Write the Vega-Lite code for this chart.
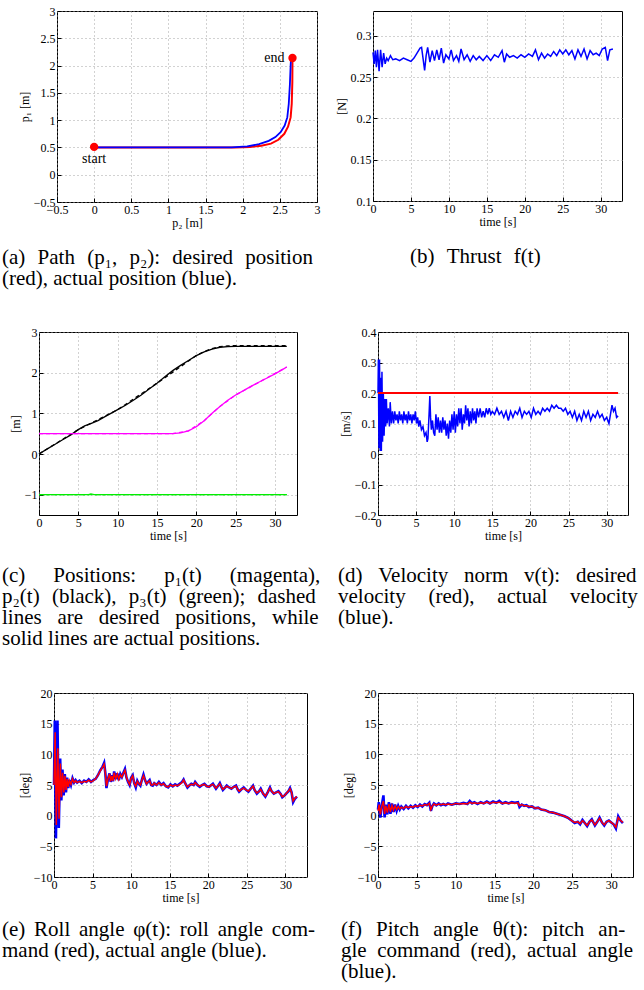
{
"$schema": "https://vega.github.io/schema/vega-lite/v6.json",
"background": "white",
"padding": {"left": 1, "top": 4, "right": 0, "bottom": 0},
"autosize": {"type": "pad"},
"config": {
  "font": "Liberation Serif",
  "view": {"stroke": "black", "strokeWidth": 1, "fill": "white"},
  "axis": {"domain": false, "grid": true, "gridColor": "#9a9a9a", "gridDash": [1, 3], "gridWidth": 0.9, "ticks": true, "tickSize": -4, "tickColor": "black", "labelFont": "Liberation Serif", "labelFontSize": 12, "labelColor": "black", "labelPadding": 6, "labelFlush": false, "labelOverlap": false, "titleFont": "Liberation Serif", "titleFontSize": 12, "titleFontWeight": "normal", "titleColor": "black", "titlePadding": 2},
  "title": {"font": "Liberation Serif", "fontSize": 21, "fontWeight": "normal", "color": "black", "orient": "bottom", "anchor": "start", "frame": "group", "align": "left", "baseline": "top", "lineHeight": 21}
},
"datasets": {
  "pathDes": [{"i":0,"p2":0,"p1":0.5},{"i":1,"p2":1.9,"p1":0.5},{"i":2,"p2":2.1,"p1":0.51},{"i":3,"p2":2.25,"p1":0.53},{"i":4,"p2":2.38,"p1":0.57},{"i":5,"p2":2.48,"p1":0.64},{"i":6,"p2":2.56,"p1":0.75},{"i":7,"p2":2.61,"p1":0.88},{"i":8,"p2":2.645,"p1":1.05},{"i":9,"p2":2.66,"p1":1.3},{"i":10,"p2":2.668,"p1":1.7},{"i":11,"p2":2.67,"p1":2.14}],
  "pathAct": [{"i":0,"p2":0,"p1":0.5},{"i":1,"p2":1.85,"p1":0.5},{"i":2,"p2":2.06,"p1":0.52},{"i":3,"p2":2.22,"p1":0.56},{"i":4,"p2":2.35,"p1":0.62},{"i":5,"p2":2.44,"p1":0.69},{"i":6,"p2":2.51,"p1":0.78},{"i":7,"p2":2.565,"p1":0.9},{"i":8,"p2":2.6,"p1":1.05},{"i":9,"p2":2.62,"p1":1.3},{"i":10,"p2":2.635,"p1":1.65},{"i":11,"p2":2.645,"p1":2.0},{"i":12,"p2":2.65,"p1":2.12}],
  "pathPts": [{"p2":0,"p1":0.51,"label":"start"},{"p2":2.67,"p1":2.14,"label":"end"}],
  "thrust": [{"t":0,"v":0.28},{"t":0.15,"v":0.266},{"t":0.3,"v":0.282},{"t":0.45,"v":0.262},{"t":0.6,"v":0.283},{"t":0.8,"v":0.257},{"t":1.0,"v":0.283},{"t":1.2,"v":0.262},{"t":1.4,"v":0.279},{"t":1.6,"v":0.266},{"t":1.8,"v":0.273},{"t":2.0,"v":0.27},{"t":2.3,"v":0.276},{"t":2.6,"v":0.271},{"t":3.0,"v":0.272},{"t":3.5,"v":0.27},{"t":4.0,"v":0.273},{"t":4.5,"v":0.271},{"t":5.0,"v":0.269},{"t":5.4,"v":0.273},{"t":5.8,"v":0.279},{"t":6.2,"v":0.285},{"t":6.4,"v":0.286},{"t":6.6,"v":0.272},{"t":6.8,"v":0.258},{"t":7.0,"v":0.276},{"t":7.2,"v":0.286},{"t":7.5,"v":0.268},{"t":7.8,"v":0.282},{"t":8.1,"v":0.27},{"t":8.4,"v":0.283},{"t":8.7,"v":0.271},{"t":9.0,"v":0.285},{"t":9.3,"v":0.267},{"t":9.6,"v":0.277},{"t":10.0,"v":0.272},{"t":10.3,"v":0.283},{"t":10.6,"v":0.27},{"t":11.0,"v":0.276},{"t":11.3,"v":0.269},{"t":11.6,"v":0.284},{"t":12.0,"v":0.271},{"t":12.4,"v":0.277},{"t":12.8,"v":0.269},{"t":13.2,"v":0.276},{"t":13.6,"v":0.271},{"t":14.0,"v":0.275},{"t":14.5,"v":0.27},{"t":15.0,"v":0.276},{"t":15.5,"v":0.27},{"t":16.0,"v":0.277},{"t":16.5,"v":0.274},{"t":17.0,"v":0.282},{"t":17.3,"v":0.268},{"t":17.6,"v":0.278},{"t":18.0,"v":0.274},{"t":18.5,"v":0.276},{"t":19.0,"v":0.273},{"t":19.5,"v":0.277},{"t":20.0,"v":0.274},{"t":20.5,"v":0.278},{"t":21.0,"v":0.275},{"t":21.4,"v":0.283},{"t":21.8,"v":0.271},{"t":22.2,"v":0.279},{"t":22.6,"v":0.273},{"t":23.0,"v":0.278},{"t":23.4,"v":0.275},{"t":23.8,"v":0.281},{"t":24.2,"v":0.276},{"t":24.6,"v":0.283},{"t":25.0,"v":0.278},{"t":25.4,"v":0.283},{"t":25.8,"v":0.277},{"t":26.2,"v":0.282},{"t":26.6,"v":0.272},{"t":27.0,"v":0.283},{"t":27.4,"v":0.275},{"t":27.8,"v":0.284},{"t":28.2,"v":0.272},{"t":28.6,"v":0.282},{"t":29.0,"v":0.277},{"t":29.4,"v":0.279},{"t":29.8,"v":0.276},{"t":30.2,"v":0.284},{"t":30.6,"v":0.286},{"t":30.9,"v":0.27},{"t":31.2,"v":0.283},{"t":31.6,"v":0.284}],
  "posAct": [
    {"s":"p2","t":0,"v":0},{"s":"p2","t":1,"v":0.12},{"s":"p2","t":2,"v":0.235},{"s":"p2","t":3,"v":0.35},{"s":"p2","t":4,"v":0.465},{"s":"p2","t":5,"v":0.6},{"s":"p2","t":5.8,"v":0.69},{"s":"p2","t":6.5,"v":0.74},{"s":"p2","t":7.5,"v":0.82},{"s":"p2","t":8.5,"v":0.93},{"s":"p2","t":10,"v":1.09},{"s":"p2","t":11,"v":1.2},{"s":"p2","t":12,"v":1.32},{"s":"p2","t":13,"v":1.45},{"s":"p2","t":14,"v":1.6},{"s":"p2","t":15,"v":1.74},{"s":"p2","t":16,"v":1.9},{"s":"p2","t":17,"v":2.05},{"s":"p2","t":18,"v":2.18},{"s":"p2","t":19,"v":2.3},{"s":"p2","t":20,"v":2.42},{"s":"p2","t":21,"v":2.51},{"s":"p2","t":22,"v":2.58},{"s":"p2","t":23,"v":2.625},{"s":"p2","t":24,"v":2.64},{"s":"p2","t":25,"v":2.645},{"s":"p2","t":31.5,"v":2.645},
    {"s":"p1","t":0,"v":0.5},{"s":"p1","t":17,"v":0.5},{"s":"p1","t":18,"v":0.52},{"s":"p1","t":19,"v":0.57},{"s":"p1","t":20,"v":0.67},{"s":"p1","t":21,"v":0.82},{"s":"p1","t":22,"v":1.0},{"s":"p1","t":23,"v":1.17},{"s":"p1","t":24,"v":1.32},{"s":"p1","t":25,"v":1.45},{"s":"p1","t":26,"v":1.56},{"s":"p1","t":27,"v":1.67},{"s":"p1","t":28,"v":1.77},{"s":"p1","t":29,"v":1.87},{"s":"p1","t":30,"v":1.97},{"s":"p1","t":31,"v":2.08},{"s":"p1","t":31.5,"v":2.14},
    {"s":"p3","t":0,"v":-1},{"s":"p3","t":6.3,"v":-1},{"s":"p3","t":6.6,"v":-0.98},{"s":"p3","t":7,"v":-1},{"s":"p3","t":31.5,"v":-1}],
  "posDes": [
    {"s":"p2","t":0,"v":0},{"s":"p2","t":5,"v":0.6},{"s":"p2","t":10,"v":1.09},{"s":"p2","t":15,"v":1.74},{"s":"p2","t":20,"v":2.42},{"s":"p2","t":21,"v":2.52},{"s":"p2","t":22,"v":2.59},{"s":"p2","t":23,"v":2.64},{"s":"p2","t":24,"v":2.66},{"s":"p2","t":25,"v":2.665},{"s":"p2","t":31.5,"v":2.665},
    {"s":"p1","t":0,"v":0.5},{"s":"p1","t":17,"v":0.5},{"s":"p1","t":19,"v":0.57},{"s":"p1","t":21,"v":0.82},{"s":"p1","t":23,"v":1.17},{"s":"p1","t":25,"v":1.45},{"s":"p1","t":31.5,"v":2.14},
    {"s":"p3","t":0,"v":-1},{"s":"p3","t":31.5,"v":-1}],
  "velDes": [{"t":0,"v":0.2},{"t":31.5,"v":0.2}],
  "velAct": [{"t":0,"v":0.2},{"t":0.05,"v":0.31},{"t":0.12,"v":0.02},{"t":0.2,"v":0.31},{"t":0.28,"v":0.01},{"t":0.36,"v":0.25},{"t":0.44,"v":0.01},{"t":0.52,"v":0.27},{"t":0.6,"v":0.04},{"t":0.7,"v":0.2},{"t":0.8,"v":0.06},{"t":0.9,"v":0.18},{"t":1.0,"v":0.09},{"t":1.1,"v":0.18},{"t":1.2,"v":0.1},{"t":1.35,"v":0.15},{"t":1.5,"v":0.09},{"t":1.6,"v":0.17},{"t":1.75,"v":0.1},{"t":1.9,"v":0.14},{"t":2.05,"v":0.1},{"t":2.2,"v":0.14},{"t":2.35,"v":0.11},{"t":2.5,"v":0.13},{"t":2.65,"v":0.1},{"t":2.8,"v":0.14},{"t":2.95,"v":0.11},{"t":3.1,"v":0.13},{"t":3.25,"v":0.1},{"t":3.4,"v":0.14},{"t":3.55,"v":0.11},{"t":3.7,"v":0.13},{"t":3.85,"v":0.1},{"t":4.0,"v":0.14},{"t":4.15,"v":0.11},{"t":4.3,"v":0.13},{"t":4.45,"v":0.1},{"t":4.6,"v":0.13},{"t":4.75,"v":0.11},{"t":4.9,"v":0.14},{"t":5.05,"v":0.1},{"t":5.2,"v":0.12},{"t":5.35,"v":0.09},{"t":5.5,"v":0.11},{"t":5.7,"v":0.08},{"t":5.9,"v":0.09},{"t":6.1,"v":0.06},{"t":6.3,"v":0.07},{"t":6.45,"v":0.04},{"t":6.55,"v":0.05},{"t":6.7,"v":0.13},{"t":6.8,"v":0.19},{"t":6.9,"v":0.12},{"t":7.0,"v":0.08},{"t":7.15,"v":0.11},{"t":7.3,"v":0.07},{"t":7.45,"v":0.06},{"t":7.6,"v":0.13},{"t":7.75,"v":0.08},{"t":7.9,"v":0.12},{"t":8.05,"v":0.07},{"t":8.2,"v":0.11},{"t":8.35,"v":0.07},{"t":8.5,"v":0.12},{"t":8.65,"v":0.08},{"t":8.8,"v":0.11},{"t":8.95,"v":0.06},{"t":9.1,"v":0.1},{"t":9.25,"v":0.05},{"t":9.4,"v":0.11},{"t":9.55,"v":0.07},{"t":9.7,"v":0.13},{"t":9.85,"v":0.08},{"t":10.0,"v":0.14},{"t":10.15,"v":0.07},{"t":10.3,"v":0.13},{"t":10.45,"v":0.09},{"t":10.6,"v":0.15},{"t":10.75,"v":0.1},{"t":10.9,"v":0.15},{"t":11.05,"v":0.08},{"t":11.2,"v":0.13},{"t":11.35,"v":0.1},{"t":11.5,"v":0.16},{"t":11.65,"v":0.11},{"t":11.8,"v":0.15},{"t":11.95,"v":0.09},{"t":12.1,"v":0.14},{"t":12.25,"v":0.1},{"t":12.4,"v":0.15},{"t":12.55,"v":0.11},{"t":12.7,"v":0.14},{"t":12.85,"v":0.1},{"t":13.0,"v":0.15},{"t":13.2,"v":0.12},{"t":13.4,"v":0.15},{"t":13.6,"v":0.12},{"t":13.8,"v":0.14},{"t":14.0,"v":0.12},{"t":14.2,"v":0.15},{"t":14.4,"v":0.13},{"t":14.6,"v":0.15},{"t":14.8,"v":0.13},{"t":15.0,"v":0.14},{"t":15.3,"v":0.13},{"t":15.6,"v":0.15},{"t":15.9,"v":0.13},{"t":16.2,"v":0.14},{"t":16.5,"v":0.12},{"t":16.8,"v":0.14},{"t":17.1,"v":0.11},{"t":17.4,"v":0.14},{"t":17.7,"v":0.12},{"t":18.0,"v":0.14},{"t":18.3,"v":0.13},{"t":18.6,"v":0.15},{"t":18.9,"v":0.12},{"t":19.2,"v":0.14},{"t":19.5,"v":0.13},{"t":19.8,"v":0.14},{"t":20.1,"v":0.12},{"t":20.4,"v":0.15},{"t":20.7,"v":0.13},{"t":21.0,"v":0.14},{"t":21.3,"v":0.13},{"t":21.6,"v":0.15},{"t":21.9,"v":0.14},{"t":22.2,"v":0.15},{"t":22.5,"v":0.14},{"t":22.8,"v":0.16},{"t":23.1,"v":0.15},{"t":23.4,"v":0.16},{"t":23.7,"v":0.15},{"t":24.0,"v":0.15},{"t":24.3,"v":0.14},{"t":24.6,"v":0.15},{"t":24.9,"v":0.13},{"t":25.2,"v":0.14},{"t":25.5,"v":0.12},{"t":25.8,"v":0.14},{"t":26.1,"v":0.11},{"t":26.4,"v":0.13},{"t":26.7,"v":0.11},{"t":27.0,"v":0.14},{"t":27.3,"v":0.12},{"t":27.6,"v":0.14},{"t":27.9,"v":0.11},{"t":28.2,"v":0.13},{"t":28.5,"v":0.12},{"t":28.8,"v":0.14},{"t":29.1,"v":0.12},{"t":29.4,"v":0.13},{"t":29.7,"v":0.11},{"t":30.0,"v":0.12},{"t":30.3,"v":0.1},{"t":30.5,"v":0.13},{"t":30.7,"v":0.16},{"t":30.9,"v":0.14},{"t":31.1,"v":0.15},{"t":31.3,"v":0.12},{"t":31.5,"v":0.125}],
  "rollAct": [{"t":0,"v":5.0},{"t":0.1,"v":15.5},{"t":0.25,"v":-3.7},{"t":0.45,"v":15.5},{"t":0.62,"v":-2.0},{"t":0.8,"v":9.3},{"t":0.95,"v":2.5},{"t":1.1,"v":7.5},{"t":1.25,"v":3.3},{"t":1.4,"v":6.8},{"t":1.55,"v":3.8},{"t":1.7,"v":6.2},{"t":1.85,"v":4.5},{"t":2.0,"v":5.8},{"t":2.2,"v":5.0},{"t":2.4,"v":6.1},{"t":2.6,"v":5.4},{"t":2.8,"v":5.8},{"t":3.0,"v":5.4},{"t":3.3,"v":5.7},{"t":3.6,"v":5.3},{"t":3.9,"v":5.7},{"t":4.2,"v":5.5},{"t":4.5,"v":5.9},{"t":4.8,"v":5.5},{"t":5.1,"v":5.8},{"t":5.4,"v":6.0},{"t":5.7,"v":6.6},{"t":6.0,"v":7.4},{"t":6.3,"v":8.0},{"t":6.5,"v":8.6},{"t":6.65,"v":7.0},{"t":6.8,"v":4.5},{"t":7.0,"v":6.0},{"t":7.2,"v":6.9},{"t":7.35,"v":5.5},{"t":7.5,"v":6.6},{"t":7.65,"v":5.6},{"t":7.8,"v":7.2},{"t":8.0,"v":6.0},{"t":8.2,"v":6.9},{"t":8.4,"v":5.8},{"t":8.6,"v":6.8},{"t":8.8,"v":6.3},{"t":9.0,"v":7.0},{"t":9.2,"v":7.6},{"t":9.4,"v":6.2},{"t":9.6,"v":5.5},{"t":9.8,"v":5.0},{"t":10.0,"v":6.2},{"t":10.2,"v":6.6},{"t":10.4,"v":5.3},{"t":10.6,"v":4.6},{"t":10.8,"v":5.7},{"t":11.0,"v":5.2},{"t":11.2,"v":4.9},{"t":11.4,"v":5.9},{"t":11.6,"v":6.7},{"t":11.8,"v":5.8},{"t":12.0,"v":5.2},{"t":12.2,"v":5.5},{"t":12.4,"v":5.8},{"t":12.6,"v":5.0},{"t":12.8,"v":4.9},{"t":13.0,"v":5.3},{"t":13.3,"v":5.0},{"t":13.6,"v":5.5},{"t":13.9,"v":5.0},{"t":14.2,"v":5.3},{"t":14.5,"v":4.8},{"t":14.8,"v":4.6},{"t":15.1,"v":5.1},{"t":15.4,"v":4.8},{"t":15.7,"v":5.1},{"t":16.0,"v":4.9},{"t":16.3,"v":5.2},{"t":16.6,"v":5.5},{"t":16.8,"v":5.9},{"t":17.0,"v":5.3},{"t":17.3,"v":4.6},{"t":17.6,"v":5.0},{"t":17.8,"v":5.2},{"t":18.1,"v":5.0},{"t":18.3,"v":5.5},{"t":18.6,"v":5.0},{"t":18.9,"v":4.7},{"t":19.2,"v":5.0},{"t":19.5,"v":5.2},{"t":19.8,"v":4.8},{"t":20.1,"v":4.7},{"t":20.4,"v":5.0},{"t":20.6,"v":5.2},{"t":20.8,"v":4.8},{"t":21.0,"v":4.4},{"t":21.3,"v":4.9},{"t":21.5,"v":5.3},{"t":21.7,"v":4.7},{"t":21.9,"v":4.2},{"t":22.2,"v":4.6},{"t":22.4,"v":4.9},{"t":22.7,"v":4.6},{"t":23.0,"v":4.4},{"t":23.3,"v":4.7},{"t":23.6,"v":4.9},{"t":23.8,"v":4.3},{"t":24.0,"v":3.9},{"t":24.3,"v":4.3},{"t":24.6,"v":4.6},{"t":24.9,"v":4.2},{"t":25.2,"v":3.9},{"t":25.5,"v":4.4},{"t":25.8,"v":4.9},{"t":26.0,"v":4.2},{"t":26.3,"v":3.6},{"t":26.6,"v":4.0},{"t":26.8,"v":4.4},{"t":27.1,"v":3.6},{"t":27.4,"v":3.1},{"t":27.7,"v":3.8},{"t":28.0,"v":4.6},{"t":28.2,"v":4.0},{"t":28.5,"v":3.6},{"t":28.8,"v":3.8},{"t":29.1,"v":4.0},{"t":29.4,"v":3.5},{"t":29.6,"v":3.0},{"t":29.9,"v":3.3},{"t":30.1,"v":3.6},{"t":30.4,"v":4.0},{"t":30.6,"v":4.5},{"t":30.8,"v":3.8},{"t":31.0,"v":2.2},{"t":31.2,"v":2.7},{"t":31.5,"v":3.1}],
  "rollCmd": [{"t":0,"v":5.0},{"t":0.15,"v":13.6},{"t":0.3,"v":-1.5},{"t":0.5,"v":11.0},{"t":0.65,"v":-0.5},{"t":0.82,"v":8.5},{"t":0.97,"v":3.0},{"t":1.12,"v":7.0},{"t":1.27,"v":3.8},{"t":1.42,"v":6.5},{"t":1.57,"v":4.2},{"t":1.72,"v":6.0},{"t":1.85,"v":4.7},{"t":2.0,"v":5.7},{"t":2.2,"v":5.1},{"t":2.4,"v":6.0},{"t":2.6,"v":5.4},{"t":2.8,"v":5.7},{"t":3.0,"v":5.4},{"t":3.3,"v":5.6},{"t":3.6,"v":5.4},{"t":3.9,"v":5.6},{"t":4.2,"v":5.5},{"t":4.5,"v":5.8},{"t":4.8,"v":5.5},{"t":5.1,"v":5.7},{"t":5.4,"v":6.0},{"t":5.7,"v":6.6},{"t":6.0,"v":7.3},{"t":6.3,"v":7.9},{"t":6.5,"v":8.4},{"t":6.65,"v":7.0},{"t":6.8,"v":4.8},{"t":7.0,"v":6.0},{"t":7.2,"v":6.8},{"t":7.35,"v":5.6},{"t":7.5,"v":6.5},{"t":7.65,"v":5.7},{"t":7.8,"v":7.0},{"t":8.0,"v":6.0},{"t":8.2,"v":6.8},{"t":8.4,"v":5.9},{"t":8.6,"v":6.7},{"t":8.8,"v":6.3},{"t":9.0,"v":6.9},{"t":9.2,"v":7.4},{"t":9.4,"v":6.2},{"t":9.6,"v":5.6},{"t":9.8,"v":5.1},{"t":10.0,"v":6.1},{"t":10.2,"v":6.5},{"t":10.4,"v":5.3},{"t":10.6,"v":4.8},{"t":10.8,"v":5.6},{"t":11.0,"v":5.2},{"t":11.2,"v":5.0},{"t":11.4,"v":5.8},{"t":11.6,"v":6.5},{"t":11.8,"v":5.8},{"t":12.0,"v":5.2},{"t":12.2,"v":5.5},{"t":12.4,"v":5.7},{"t":12.6,"v":5.0},{"t":12.8,"v":5.0},{"t":13.0,"v":5.3},{"t":13.3,"v":5.0},{"t":13.6,"v":5.4},{"t":13.9,"v":5.0},{"t":14.2,"v":5.2},{"t":14.5,"v":4.8},{"t":14.8,"v":4.7},{"t":15.1,"v":5.0},{"t":15.4,"v":4.8},{"t":15.7,"v":5.0},{"t":16.0,"v":4.9},{"t":16.3,"v":5.1},{"t":16.6,"v":5.4},{"t":16.8,"v":5.8},{"t":17.0,"v":5.3},{"t":17.3,"v":4.7},{"t":17.6,"v":5.0},{"t":17.8,"v":5.1},{"t":18.1,"v":5.0},{"t":18.3,"v":5.4},{"t":18.6,"v":5.0},{"t":18.9,"v":4.8},{"t":19.2,"v":5.0},{"t":19.5,"v":5.1},{"t":19.8,"v":4.8},{"t":20.1,"v":4.7},{"t":20.4,"v":5.0},{"t":20.6,"v":5.1},{"t":20.8,"v":4.8},{"t":21.0,"v":4.5},{"t":21.3,"v":4.9},{"t":21.5,"v":5.2},{"t":21.7,"v":4.7},{"t":21.9,"v":4.3},{"t":22.2,"v":4.6},{"t":22.4,"v":4.8},{"t":22.7,"v":4.6},{"t":23.0,"v":4.4},{"t":23.3,"v":4.7},{"t":23.6,"v":4.8},{"t":23.8,"v":4.3},{"t":24.0,"v":4.0},{"t":24.3,"v":4.3},{"t":24.6,"v":4.5},{"t":24.9,"v":4.2},{"t":25.2,"v":4.0},{"t":25.5,"v":4.4},{"t":25.8,"v":4.8},{"t":26.0,"v":4.2},{"t":26.3,"v":3.7},{"t":26.6,"v":4.0},{"t":26.8,"v":4.3},{"t":27.1,"v":3.6},{"t":27.4,"v":3.2},{"t":27.7,"v":3.8},{"t":28.0,"v":4.5},{"t":28.2,"v":4.0},{"t":28.5,"v":3.6},{"t":28.8,"v":3.8},{"t":29.1,"v":3.9},{"t":29.4,"v":3.5},{"t":29.6,"v":3.1},{"t":29.9,"v":3.3},{"t":30.1,"v":3.6},{"t":30.4,"v":4.0},{"t":30.6,"v":4.4},{"t":30.8,"v":3.8},{"t":31.0,"v":2.4},{"t":31.2,"v":2.8},{"t":31.5,"v":3.1}],
  "pitchAct": [{"t":0,"v":1.0},{"t":0.1,"v":2.2},{"t":0.3,"v":-0.3},{"t":0.5,"v":1.8},{"t":0.7,"v":3.3},{"t":0.85,"v":-0.3},{"t":1.0,"v":1.8},{"t":1.2,"v":0.2},{"t":1.4,"v":2.2},{"t":1.6,"v":0.3},{"t":1.8,"v":2.0},{"t":2.0,"v":0.6},{"t":2.2,"v":1.8},{"t":2.4,"v":0.8},{"t":2.6,"v":1.6},{"t":2.8,"v":1.0},{"t":3.0,"v":1.5},{"t":3.3,"v":1.1},{"t":3.6,"v":1.6},{"t":3.9,"v":1.2},{"t":4.2,"v":1.6},{"t":4.5,"v":1.3},{"t":4.8,"v":1.7},{"t":5.1,"v":1.4},{"t":5.4,"v":1.8},{"t":5.7,"v":1.5},{"t":6.0,"v":1.9},{"t":6.3,"v":1.7},{"t":6.6,"v":2.1},{"t":6.8,"v":0.8},{"t":7.0,"v":1.6},{"t":7.2,"v":2.0},{"t":7.5,"v":1.7},{"t":7.8,"v":2.0},{"t":8.1,"v":1.7},{"t":8.4,"v":1.9},{"t":8.7,"v":1.7},{"t":9.0,"v":2.0},{"t":9.5,"v":1.8},{"t":10.0,"v":2.0},{"t":10.5,"v":1.9},{"t":11.0,"v":2.1},{"t":11.5,"v":1.9},{"t":11.8,"v":2.4},{"t":12.1,"v":2.0},{"t":12.4,"v":2.2},{"t":12.8,"v":1.9},{"t":13.2,"v":2.2},{"t":13.6,"v":2.0},{"t":14.0,"v":2.3},{"t":14.4,"v":2.0},{"t":14.8,"v":2.3},{"t":15.2,"v":2.1},{"t":15.6,"v":2.4},{"t":16.0,"v":2.0},{"t":16.4,"v":2.2},{"t":16.8,"v":2.0},{"t":17.2,"v":2.2},{"t":17.6,"v":2.1},{"t":18.0,"v":2.2},{"t":18.2,"v":1.4},{"t":18.5,"v":1.8},{"t":18.8,"v":1.6},{"t":19.1,"v":1.7},{"t":19.4,"v":1.4},{"t":19.8,"v":1.5},{"t":20.2,"v":1.2},{"t":20.6,"v":1.3},{"t":21.0,"v":1.0},{"t":21.5,"v":0.9},{"t":22.0,"v":0.6},{"t":22.5,"v":0.5},{"t":23.0,"v":0.3},{"t":23.5,"v":0.1},{"t":24.0,"v":-0.1},{"t":24.5,"v":-0.4},{"t":24.9,"v":-0.8},{"t":25.3,"v":-1.2},{"t":25.7,"v":-1.0},{"t":26.0,"v":-1.4},{"t":26.3,"v":-0.7},{"t":26.6,"v":-1.2},{"t":26.9,"v":-1.7},{"t":27.2,"v":-1.0},{"t":27.5,"v":-0.6},{"t":27.9,"v":-1.6},{"t":28.2,"v":-1.0},{"t":28.5,"v":-0.3},{"t":28.8,"v":-1.1},{"t":29.1,"v":-1.6},{"t":29.4,"v":-1.0},{"t":29.7,"v":-0.8},{"t":30.0,"v":-1.1},{"t":30.3,"v":-1.4},{"t":30.6,"v":-2.1},{"t":30.9,"v":-0.1},{"t":31.2,"v":-0.8},{"t":31.5,"v":-1.2}],
  "pitchCmd": [{"t":0,"v":0.8},{"t":0.15,"v":1.8},{"t":0.3,"v":0.2},{"t":0.5,"v":1.6},{"t":0.7,"v":2.4},{"t":0.85,"v":0.3},{"t":1.0,"v":1.6},{"t":1.2,"v":0.5},{"t":1.4,"v":1.9},{"t":1.6,"v":0.6},{"t":1.8,"v":1.7},{"t":2.0,"v":0.9},{"t":2.2,"v":1.6},{"t":2.4,"v":1.0},{"t":2.6,"v":1.5},{"t":2.8,"v":1.1},{"t":3.0,"v":1.4},{"t":3.3,"v":1.2},{"t":3.6,"v":1.5},{"t":3.9,"v":1.3},{"t":4.2,"v":1.5},{"t":4.5,"v":1.4},{"t":4.8,"v":1.6},{"t":5.1,"v":1.5},{"t":5.4,"v":1.7},{"t":5.7,"v":1.6},{"t":6.0,"v":1.8},{"t":6.3,"v":1.7},{"t":6.6,"v":2.0},{"t":6.8,"v":1.0},{"t":7.0,"v":1.6},{"t":7.2,"v":1.9},{"t":7.5,"v":1.7},{"t":7.8,"v":1.9},{"t":8.1,"v":1.8},{"t":8.4,"v":1.9},{"t":8.7,"v":1.8},{"t":9.0,"v":1.9},{"t":9.5,"v":1.8},{"t":10.0,"v":2.0},{"t":10.5,"v":1.9},{"t":11.0,"v":2.0},{"t":11.5,"v":1.9},{"t":11.8,"v":2.2},{"t":12.1,"v":2.0},{"t":12.4,"v":2.1},{"t":12.8,"v":2.0},{"t":13.2,"v":2.1},{"t":13.6,"v":2.0},{"t":14.0,"v":2.2},{"t":14.4,"v":2.0},{"t":14.8,"v":2.2},{"t":15.2,"v":2.1},{"t":15.6,"v":2.2},{"t":16.0,"v":2.0},{"t":16.4,"v":2.1},{"t":16.8,"v":2.0},{"t":17.2,"v":2.1},{"t":17.6,"v":2.0},{"t":18.0,"v":2.1},{"t":18.2,"v":1.6},{"t":18.5,"v":1.8},{"t":18.8,"v":1.6},{"t":19.1,"v":1.6},{"t":19.4,"v":1.5},{"t":19.8,"v":1.5},{"t":20.2,"v":1.2},{"t":20.6,"v":1.3},{"t":21.0,"v":1.0},{"t":21.5,"v":0.9},{"t":22.0,"v":0.6},{"t":22.5,"v":0.5},{"t":23.0,"v":0.3},{"t":23.5,"v":0.1},{"t":24.0,"v":-0.1},{"t":24.5,"v":-0.4},{"t":24.9,"v":-0.8},{"t":25.3,"v":-1.1},{"t":25.7,"v":-1.0},{"t":26.0,"v":-1.3},{"t":26.3,"v":-0.8},{"t":26.6,"v":-1.2},{"t":26.9,"v":-1.6},{"t":27.2,"v":-1.0},{"t":27.5,"v":-0.7},{"t":27.9,"v":-1.5},{"t":28.2,"v":-1.0},{"t":28.5,"v":-0.4},{"t":28.8,"v":-1.1},{"t":29.1,"v":-1.5},{"t":29.4,"v":-1.0},{"t":29.7,"v":-0.8},{"t":30.0,"v":-1.1},{"t":30.3,"v":-1.4},{"t":30.6,"v":-1.9},{"t":30.9,"v":-0.3},{"t":31.2,"v":-0.8},{"t":31.5,"v":-1.1}]
},
"spacing": 35,
"vconcat": [
  {"hconcat": [
    {"hconcat": [
      {"width": 18, "height": 1, "view": {"stroke": null, "fill": null}, "data": {"values": []}, "mark": {"type": "point", "opacity": 0}},
      {"width": 260, "height": 191,
       "title": {"text": ["(a) \u2004Path \u2004(p₁, \u2004p₂): \u2004desired \u2004position", "(red), actual position (blue)."], "dx": -55, "offset": 19},
       "encoding": {
         "x": {"field": "p2", "type": "quantitative", "scale": {"domain": [-0.5, 3], "nice": false, "zero": false}, "axis": {"values": [-0.5, 0, 0.5, 1, 1.5, 2, 2.5, 3], "format": "~g", "title": "p₂ [m]"}},
         "y": {"field": "p1", "type": "quantitative", "scale": {"domain": [-0.5, 3], "nice": false, "zero": false}, "axis": {"values": [-0.5, 0, 0.5, 1, 1.5, 2, 2.5, 3], "format": "~g", "title": "p₁ [m]"}}
       },
       "layer": [
         {"data": {"name": "pathDes"}, "mark": {"type": "line", "color": "#ff0000", "strokeWidth": 2.0}, "encoding": {"order": {"field": "i", "type": "quantitative"}}},
         {"data": {"name": "pathAct"}, "mark": {"type": "line", "color": "#0000ff", "strokeWidth": 1.8}, "encoding": {"order": {"field": "i", "type": "quantitative"}}},
         {"data": {"name": "pathPts"}, "mark": {"type": "point", "filled": true, "color": "#ff0000", "size": 70, "opacity": 1}, "encoding": {}},
         {"data": {"name": "pathPts"}, "transform": [{"filter": "datum.label == 'start'"}], "mark": {"type": "text", "font": "Liberation Serif", "fontSize": 14, "align": "center", "baseline": "top", "dy": 5, "color": "black"}, "encoding": {"text": {"field": "label"}}},
         {"data": {"name": "pathPts"}, "transform": [{"filter": "datum.label == 'end'"}], "mark": {"type": "text", "font": "Liberation Serif", "fontSize": 14, "align": "right", "baseline": "middle", "dx": -8, "color": "black"}, "encoding": {"text": {"field": "label"}}}
       ]}
    ], "spacing": 0, "bounds": "flush"},
    {"width": 249, "height": 190,
     "title": {"text": "(b) \u2004Thrust \u2004f(t)", "dx": 37, "offset": 19},
     "data": {"name": "thrust"},
     "mark": {"type": "line", "color": "#0000ff", "strokeWidth": 1.5},
     "encoding": {
       "x": {"field": "t", "type": "quantitative", "scale": {"domain": [0, 32.8], "nice": false, "zero": false}, "axis": {"values": [0, 5, 10, 15, 20, 25, 30], "title": "time [s]"}},
       "y": {"field": "v", "type": "quantitative", "scale": {"domain": [0.1, 0.33], "nice": false, "zero": false}, "axis": {"values": [0.1, 0.15, 0.2, 0.25, 0.3], "format": "~g", "title": "[N]"}}
     }}
  ], "spacing": 13, "bounds": "full"},
  {"spacing": 36, "vconcat": [
  {"hconcat": [
    {"width": 258, "height": 183,
     "title": {"text": ["(c) \u2002\u2005\u2004Positions: \u2002\u2005\u2004p₁(t) \u2002\u2005\u2004(magenta),", "p₂(t) \u2004(black), \u2004p₃(t) \u2004(green); \u2004dashed", "lines \u2002are \u2002desired \u2002positions, \u2002while", "solid lines are actual positions."], "dx": -37, "offset": 24},
     "encoding": {
       "x": {"field": "t", "type": "quantitative", "scale": {"domain": [0, 32.8], "nice": false, "zero": false}, "axis": {"values": [0, 5, 10, 15, 20, 25, 30], "title": "time [s]"}},
       "y": {"field": "v", "type": "quantitative", "scale": {"domain": [-1.5, 3], "nice": false, "zero": false}, "axis": {"values": [-1, 0, 1, 2, 3], "format": "~g", "title": "[m]"}},
       "color": {"field": "s", "type": "nominal", "scale": {"domain": ["p1", "p2", "p3"], "range": ["#ff00ff", "#000000", "#00ee00"]}, "legend": null}
     },
     "layer": [
       {"data": {"name": "posDes"}, "mark": {"type": "line", "strokeWidth": 1.3, "strokeDash": [4, 3]}},
       {"data": {"name": "posAct"}, "mark": {"type": "line", "strokeWidth": 1.3}}
     ]},
    {"width": 250, "height": 183,
     "title": {"text": ["(d) \u2002Velocity \u2002norm \u2002v(t): \u2002desired", "velocity \u2002\u2004(red), \u2002\u2004actual \u2002\u2004velocity", "(blue)."], "dx": -40, "offset": 24},
     "encoding": {
       "x": {"field": "t", "type": "quantitative", "scale": {"domain": [0, 32.8], "nice": false, "zero": false}, "axis": {"values": [0, 5, 10, 15, 20, 25, 30], "title": "time [s]"}},
       "y": {"field": "v", "type": "quantitative", "scale": {"domain": [-0.2, 0.4], "nice": false, "zero": false}, "axis": {"values": [-0.2, -0.1, 0, 0.1, 0.2, 0.3, 0.4], "format": "~g", "title": "[m/s]"}}
     },
     "layer": [
       {"data": {"name": "velAct"}, "mark": {"type": "line", "color": "#0000ff", "strokeWidth": 1.5}},
       {"data": {"name": "velDes"}, "mark": {"type": "line", "color": "#ff0000", "strokeWidth": 1.8}}
     ]}
  ], "spacing": 16, "bounds": "full"},
  {"hconcat": [
    {"hconcat": [
      {"width": 15, "height": 1, "view": {"stroke": null, "fill": null}, "data": {"values": []}, "mark": {"type": "point", "opacity": 0}},
      {"width": 253, "height": 184,
       "title": {"text": ["(e) \u2006Roll \u2006angle \u2006φ(t): \u2006roll \u2006angle \u2006com-", "mand (red), actual angle (blue)."], "dx": -52, "offset": 16},
       "encoding": {
         "x": {"field": "t", "type": "quantitative", "scale": {"domain": [0, 32.8], "nice": false, "zero": false}, "axis": {"values": [0, 5, 10, 15, 20, 25, 30], "title": "time [s]"}},
         "y": {"field": "v", "type": "quantitative", "scale": {"domain": [-10, 20], "nice": false, "zero": false}, "axis": {"values": [-10, -5, 0, 5, 10, 15, 20], "format": "~g", "title": "[deg]"}}
       },
       "layer": [
         {"data": {"name": "rollAct"}, "mark": {"type": "line", "color": "#0000ff", "strokeWidth": 2.6}},
         {"data": {"name": "rollCmd"}, "mark": {"type": "line", "color": "#ff0000", "strokeWidth": 1.5}}
       ]}
    ], "spacing": 0, "bounds": "flush"},
    {"width": 255, "height": 184,
     "title": {"text": ["(f) \u2004\u200aPitch \u2004\u200aangle \u2004\u200aθ(t): \u2004\u200apitch \u2004\u200aan-", "gle \u2005command \u2005(red), \u2005actual \u2005angle", "(blue)."], "dx": -37, "offset": 16},
     "encoding": {
       "x": {"field": "t", "type": "quantitative", "scale": {"domain": [0, 32.8], "nice": false, "zero": false}, "axis": {"values": [0, 5, 10, 15, 20, 25, 30], "title": "time [s]"}},
       "y": {"field": "v", "type": "quantitative", "scale": {"domain": [-10, 20], "nice": false, "zero": false}, "axis": {"values": [-10, -5, 0, 5, 10, 15, 20], "format": "~g", "title": "[deg]"}}
     },
     "layer": [
       {"data": {"name": "pitchAct"}, "mark": {"type": "line", "color": "#0000ff", "strokeWidth": 2.6}},
       {"data": {"name": "pitchCmd"}, "mark": {"type": "line", "color": "#ff0000", "strokeWidth": 1.5}}
     ]}
  ], "spacing": 24, "bounds": "full"}
  ]}
]
}
